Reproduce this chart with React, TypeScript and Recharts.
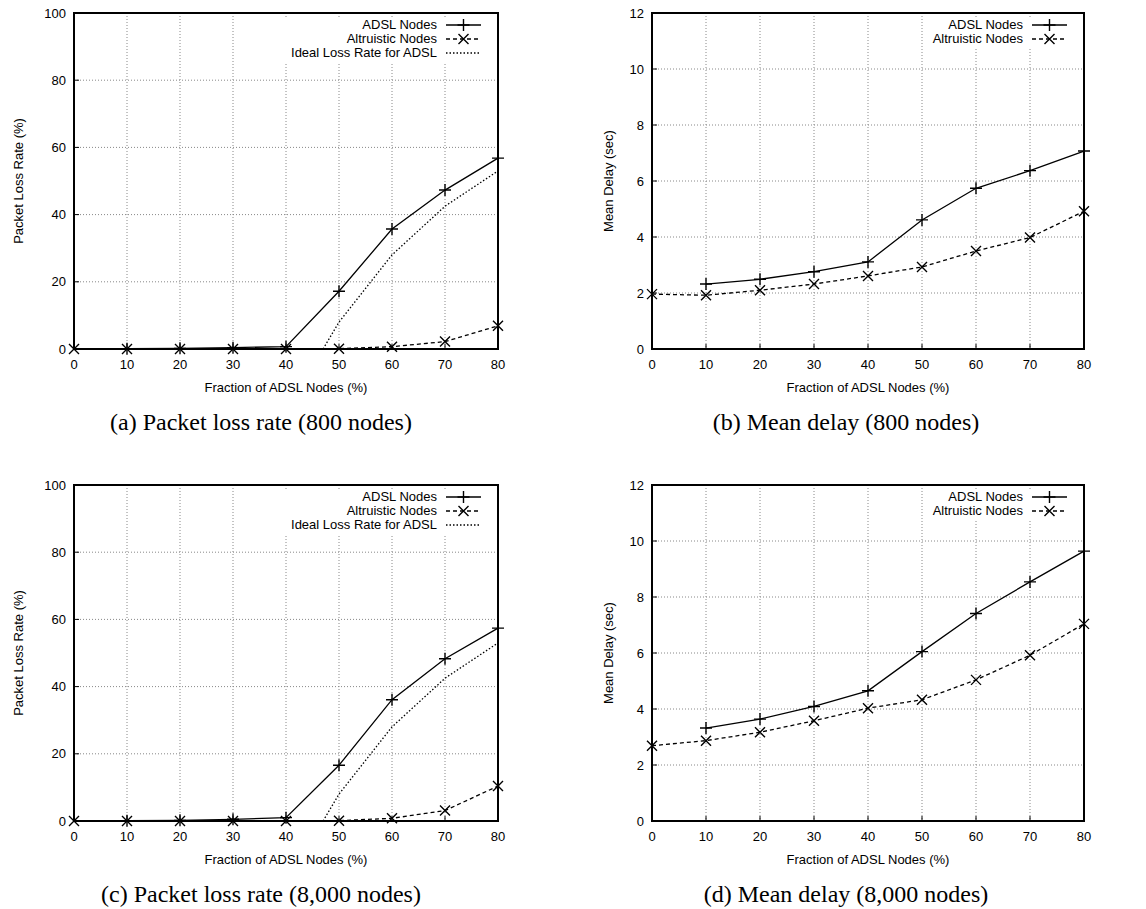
import { LineChart, Line, XAxis, YAxis, CartesianGrid, Legend } from 'recharts';

const SANS = '"Liberation Sans", Arial, Helvetica, sans-serif';
const SERIF = '"Liberation Serif", "Times New Roman", serif';

// x positions (fraction of ADSL nodes, %)
const xAll = [0, 10, 20, 30, 40, 50, 60, 70, 80];
const xAdsl = [10, 20, 30, 40, 50, 60, 70, 80];
const xIdeal = [47, 50, 60, 70, 80];
const xTicks = [0, 10, 20, 30, 40, 50, 60, 70, 80];

// (a) packet loss, 800 nodes
const lossAdsl800 = [0.1, 0.2, 0.4, 0.7, 17.2, 35.7, 47.3, 56.8];
const lossAlt800 = [0, 0, 0, 0, 0, 0.1, 0.7, 2.2, 6.9];
// (b) mean delay, 800 nodes
const delayAdsl800 = [2.32, 2.49, 2.76, 3.11, 4.61, 5.74, 6.37, 7.07];
const delayAlt800 = [1.96, 1.92, 2.1, 2.32, 2.61, 2.93, 3.5, 3.98, 4.92];
// (c) packet loss, 8,000 nodes
const lossAdsl8000 = [0.1, 0.2, 0.5, 1.0, 16.6, 36.1, 48.3, 57.4];
const lossAlt8000 = [0, 0, 0, 0, 0, 0.1, 0.8, 3.1, 10.4];
// (d) mean delay, 8,000 nodes
const delayAdsl8000 = [3.32, 3.64, 4.09, 4.65, 6.05, 7.41, 8.54, 9.64];
const delayAlt8000 = [2.69, 2.87, 3.17, 3.58, 4.03, 4.33, 5.04, 5.92, 7.04];
// ideal loss rate for ADSL (same in a and c)
const idealLoss = [0, 8, 28, 42.5, 53];

const lossTicks = [0, 20, 40, 60, 80, 100];
const delayTicks = [0, 2, 4, 6, 8, 10, 12];

type Pt = { x: number; y: number };
type Marker = 'plus' | 'cross' | 'none';
type Series = { name: string; points: Pt[]; dash?: string; marker: Marker };

const zip = (xs: number[], ys: number[]): Pt[] => xs.map((x, i) => ({ x, y: ys[i] }));

const markerPath = (m: Marker, cx: number, cy: number) => {
  if (m === 'plus') return `M${cx - 6},${cy}H${cx + 6}M${cx},${cy - 6}V${cy + 6}`;
  if (m === 'cross') return `M${cx - 5},${cy - 5}L${cx + 5},${cy + 5}M${cx - 5},${cy + 5}L${cx + 5},${cy - 5}`;
  return '';
};

const MarkDot = (props: any) => {
  const { cx, cy, marker } = props;
  if (cx == null || cy == null || marker === 'none') return null;
  return <path d={markerPath(marker, cx, cy)} stroke="#000" strokeWidth={1.4} fill="none" />;
};

const KeyBox = ({ items }: { items: Series[] }) => (
  <div style={{ background: '#fff', padding: '0 15px 3px 10px', font: `13px ${SANS}`, color: '#000' }}>
    {items.map((s) => (
      <div
        key={s.name}
        style={{ display: 'flex', justifyContent: 'flex-end', alignItems: 'center', height: 14, lineHeight: '14px' }}
      >
        <span style={{ whiteSpace: 'nowrap' }}>{s.name}</span>
        <svg width={35} height={14} style={{ marginLeft: 9, display: 'block' }}>
          <line x1={0} x2={35} y1={7} y2={7} stroke="#000" strokeWidth={1.3} strokeDasharray={s.dash} />
          {s.marker !== 'none' && <path d={markerPath(s.marker, 17.5, 7)} stroke="#000" strokeWidth={1.4} fill="none" />}
        </svg>
      </div>
    ))}
  </div>
);

interface PanelProps {
  left: number;
  top: number;
  yAxisWidth: number;
  marginRight: number;
  yTicks: number[];
  yLabel: string;
  yLabelOffset: number;
  series: Series[];
  caption: string;
  captionX: number;
}

const W = 573;
const H = 400;
const PLOT_TOP = 13;
const PLOT_BOTTOM = 349;

const Panel = ({ left, top, yAxisWidth, marginRight, yTicks, yLabel, yLabelOffset, series, caption, captionX }: PanelProps) => {
  const yMin = yTicks[0];
  const yMax = yTicks[yTicks.length - 1];
  const tickStyle = { fontSize: 13, fontFamily: SANS, fill: '#000' };
  const plotRight = W - marginRight;
  return (
    <div style={{ position: 'absolute', left, top, width: W, height: 460 }}>
      <LineChart width={W} height={H} margin={{ top: PLOT_TOP - 1, right: marginRight - 1, bottom: 6, left: 0 }}>
        <CartesianGrid stroke="#888" strokeDasharray="1 2" />
        <XAxis
          dataKey="x"
          type="number"
          domain={[0, 80]}
          ticks={xTicks}
          height={45}
          stroke="#000"
          tickSize={-5}
          tickMargin={16}
          tick={tickStyle}
          label={{ value: 'Fraction of ADSL Nodes (%)', position: 'insideBottom', offset: 2, style: { fontSize: 13, fontFamily: SANS, fill: '#000' } }}
        />
        <XAxis xAxisId="top" orientation="top" type="number" domain={[0, 80]} ticks={xTicks} height={1} stroke="#000" tick={false} tickSize={-5} />
        <YAxis
          type="number"
          domain={[yMin, yMax]}
          ticks={yTicks}
          width={yAxisWidth}
          stroke="#000"
          tickSize={-5}
          tickMargin={13}
          tick={tickStyle}
          label={{ value: yLabel, angle: -90, position: 'insideLeft', offset: yLabelOffset, style: { textAnchor: 'middle', fontSize: 13, fontFamily: SANS, fill: '#000' } }}
        />
        <YAxis yAxisId="right" orientation="right" type="number" domain={[yMin, yMax]} ticks={yTicks} width={1} stroke="#000" tick={false} tickSize={-5} />
        <Legend
          layout="vertical"
          align="center"
          verticalAlign="middle"
          wrapperStyle={{ top: 18, right: marginRight + 2, left: 'auto', bottom: 'auto', width: 'auto', height: 'auto' }}
          content={() => <KeyBox items={series} />}
        />
        {series.map((s) => (
          <Line
            key={s.name}
            name={s.name}
            data={s.points}
            dataKey="y"
            stroke="#000"
            strokeWidth={1.3}
            strokeDasharray={s.dash}
            dot={<MarkDot marker={s.marker} />}
            activeDot={false}
            isAnimationActive={false}
          />
        ))}
      </LineChart>
      {/* plot frame */}
      <div
        style={{
          position: 'absolute',
          left: yAxisWidth - 1,
          top: PLOT_TOP - 1,
          width: plotRight - yAxisWidth + 2,
          height: PLOT_BOTTOM - PLOT_TOP + 2,
          border: '2px solid #000',
          boxSizing: 'border-box',
          pointerEvents: 'none',
        }}
      />
      <div
        style={{
          position: 'absolute',
          left: captionX - 250,
          top: 408,
          width: 500,
          textAlign: 'center',
          font: `24px ${SERIF}`,
          lineHeight: '28px',
          color: '#000',
        }}
      >
        {caption}
      </div>
    </div>
  );
};

const lossSeries = (adsl: number[], alt: number[]): Series[] => [
  { name: 'ADSL Nodes', points: zip(xAdsl, adsl), marker: 'plus' },
  { name: 'Altruistic Nodes', points: zip(xAll, alt), dash: '4 3', marker: 'cross' },
  { name: 'Ideal Loss Rate for ADSL', points: zip(xIdeal, idealLoss), dash: '1.5 2', marker: 'none' },
];

const delaySeries = (adsl: number[], alt: number[]): Series[] => [
  { name: 'ADSL Nodes', points: zip(xAdsl, adsl), marker: 'plus' },
  { name: 'Altruistic Nodes', points: zip(xAll, alt), dash: '4 3', marker: 'cross' },
];

export default function App() {
  return (
    <div style={{ position: 'absolute', left: 0, top: 0, width: 1146, height: 909, background: '#fff' }}>
      <Panel left={0} top={0} yAxisWidth={74} marginRight={75} yTicks={lossTicks} yLabel="Packet Loss Rate (%)" yLabelOffset={18}
        series={lossSeries(lossAdsl800, lossAlt800)} caption="(a) Packet loss rate (800 nodes)" captionX={261} />
      <Panel left={573} top={0} yAxisWidth={79} marginRight={62} yTicks={delayTicks} yLabel="Mean Delay (sec)" yLabelOffset={35}
        series={delaySeries(delayAdsl800, delayAlt800)} caption="(b) Mean delay (800 nodes)" captionX={273} />
      <Panel left={0} top={472} yAxisWidth={74} marginRight={75} yTicks={lossTicks} yLabel="Packet Loss Rate (%)" yLabelOffset={18}
        series={lossSeries(lossAdsl8000, lossAlt8000)} caption="(c) Packet loss rate (8,000 nodes)" captionX={261} />
      <Panel left={573} top={472} yAxisWidth={79} marginRight={62} yTicks={delayTicks} yLabel="Mean Delay (sec)" yLabelOffset={35}
        series={delaySeries(delayAdsl8000, delayAlt8000)} caption="(d) Mean delay (8,000 nodes)" captionX={273} />
    </div>
  );
}
